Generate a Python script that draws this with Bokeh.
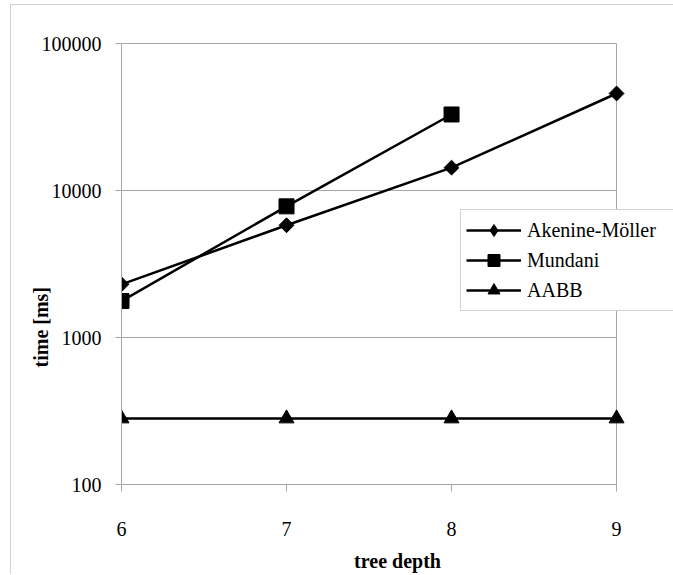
import math
from bokeh.plotting import figure
from bokeh.models import (FixedTicker, PrintfTickFormatter, Legend, Title,
                          LinearAxis, Range1d)
from bokeh.embed import file_html
from bokeh.resources import INLINE

# ---- data ----
depth = [6, 7, 8, 9]
akenine = [2300, 5800, 14300, 45700]
mundani_depth = [6, 7, 8]
mundani = [1770, 7800, 32900]
aabb = [281, 281, 281, 281]
y_ticks = [100, 1000, 10000, 100000]
x_ticks = [6, 7, 8, 9]

FONT = "Times New Roman"
GRID = "#a6a6a6"
EDGE = "#d0d0d0"

# the frame runs on past x=9 so that the legend can reach the right edge
p = figure(width=673, height=574, y_axis_type="log",
           x_range=Range1d(6, 9.345), y_range=Range1d(100, 100000),
           output_backend="svg", toolbar_location=None,
           min_border_left=121, min_border_right=0,
           min_border_top=43, min_border_bottom=90)
p.border_fill_alpha = 0
p.background_fill_color = "white"
p.styles = {"background": (f"linear-gradient({EDGE}, {EDGE}) 10px 4px / 663px 1px no-repeat, "
                           f"linear-gradient({EDGE}, {EDGE}) 10px 4px / 1px 571px no-repeat, #ffffff")}

xax = p.below[0]
yax = p.left[0]

p.outline_line_color = None
p.ygrid.visible = False
p.xgrid.ticker = FixedTicker(ticks=[x_ticks[-1]])
p.xgrid.grid_line_color = GRID

# inner horizontal grid lines, only across the data span
p.segment(x0=[depth[0]] * 2, x1=[depth[-1]] * 2, y0=y_ticks[1:3], y1=y_ticks[1:3],
          line_color=GRID, line_width=1)

# top edge line of the plot area
top = LinearAxis(ticker=FixedTicker(ticks=[]), bounds=(x_ticks[0], x_ticks[-1]),
                 axis_line_color=GRID, major_tick_line_color=None,
                 minor_tick_line_color=None, major_tick_out=0, major_tick_in=0)
p.add_layout(top, "above")

xax.ticker = FixedTicker(ticks=x_ticks, minor_ticks=[])
xax.bounds = (x_ticks[0], x_ticks[-1])
yax.ticker = FixedTicker(ticks=y_ticks, minor_ticks=[])
yax.formatter = PrintfTickFormatter(format="%d")
for ax in (xax, yax):
    ax.axis_line_color = GRID
    ax.major_tick_line_color = GRID
    ax.minor_tick_line_color = None
    ax.major_tick_in = 0
    ax.major_label_text_font = FONT
    ax.major_label_text_font_size = "20px"
    ax.major_label_text_color = "black"
xax.major_tick_out = 7
xax.major_label_standoff = 30
yax.major_tick_out = 6
yax.major_label_standoff = 14

xax.axis_label = "tree depth"
xax.axis_label_text_font = FONT
xax.axis_label_text_font_size = "20px"
xax.axis_label_text_font_style = "bold"
xax.axis_label_text_color = "black"
xax.axis_label_standoff = 11

ytitle = Title(text="time [ms]", align="left", offset=117, standoff=-27,
               text_font=FONT, text_font_size="20px",
               text_font_style="bold", text_color="black")
p.add_layout(ytitle, "left")

# ---- series ----
r1 = p.line(depth, akenine, line_color="black", line_width=2.5)
k1 = p.scatter(depth, akenine, marker="diamond", size=12,
               fill_color="black", line_color="black")
p.scatter(depth, akenine, marker="square", angle=math.pi / 4, size=10.5,
          fill_color="black", line_color="black")
r2 = p.line(mundani_depth, mundani, line_color="black", line_width=2.5)
m2 = p.scatter(mundani_depth, mundani, marker="square", size=15,
               fill_color="black", line_color="black")
r3 = p.line(depth, aabb, line_color="black", line_width=2.5)
m3 = p.scatter(depth, aabb, marker="triangle", size=15,
               fill_color="black", line_color="black")

legend = Legend(items=[("Akenine-Möller", [r1, k1]),
                       ("Mundani", [r2, m2]),
                       ("AABB", [r3, m3])],
                location=(339, 173))
legend.border_line_color = GRID
legend.border_line_width = 1
legend.background_fill_color = "white"
legend.background_fill_alpha = 1
legend.label_text_font = FONT
legend.label_text_font_size = "20px"
legend.label_text_color = "black"
legend.glyph_width = 55
legend.glyph_height = 30
legend.label_height = 30
legend.label_width = 200
legend.label_standoff = 6
legend.padding = 5
legend.spacing = 0
legend.margin = 0
p.add_layout(legend, "center")

open("out.html", "w").write(file_html(p, INLINE))
